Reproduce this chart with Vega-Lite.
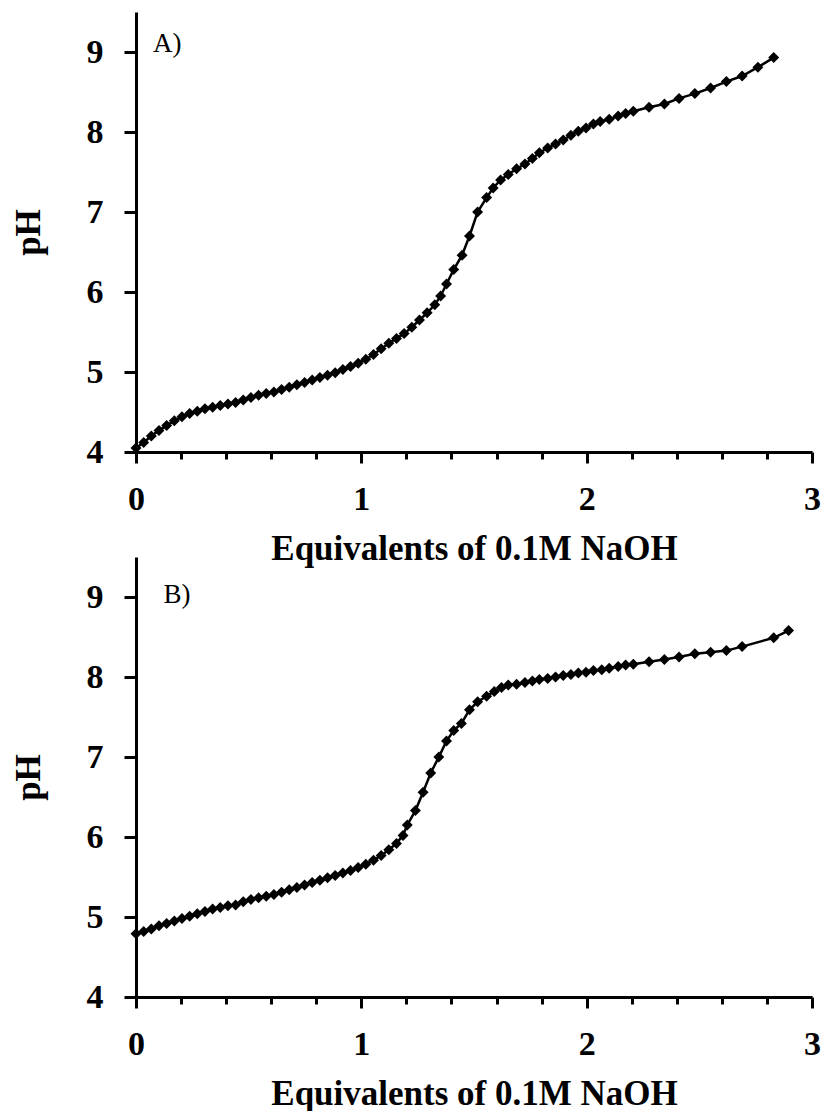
{
  "$schema": "https://vega.github.io/schema/vega-lite/v6.json",
  "background": "white",
  "padding": {"left": 11, "top": 12, "right": 0, "bottom": 0},
  "bounds": "flush",
  "spacing": 105,
  "config": {
    "view": {"stroke": null},
    "font": "Liberation Serif",
    "axis": {
      "grid": false,
      "domainColor": "black",
      "domainWidth": 3,
      "tickColor": "black",
      "tickWidth": 3,
      "labelFont": "Liberation Serif",
      "labelFontWeight": "bold",
      "labelFontSize": 34,
      "labelColor": "black",
      "titleFont": "Liberation Serif",
      "titleFontWeight": "bold",
      "titleFontSize": 35,
      "titleColor": "black",
      "labelOverlap": false,
      "labelFlush": false
    }
  },
  "datasets": {
    "a": [
      {"eq": 0.000, "pH": 4.05}, {"eq": 0.034, "pH": 4.12}, {"eq": 0.068, "pH": 4.20}, {"eq": 0.102, "pH": 4.27},
      {"eq": 0.136, "pH": 4.33}, {"eq": 0.170, "pH": 4.39}, {"eq": 0.204, "pH": 4.44}, {"eq": 0.238, "pH": 4.48},
      {"eq": 0.272, "pH": 4.51}, {"eq": 0.306, "pH": 4.54}, {"eq": 0.340, "pH": 4.56}, {"eq": 0.374, "pH": 4.58},
      {"eq": 0.408, "pH": 4.60}, {"eq": 0.442, "pH": 4.62}, {"eq": 0.476, "pH": 4.65}, {"eq": 0.510, "pH": 4.68},
      {"eq": 0.544, "pH": 4.71}, {"eq": 0.578, "pH": 4.73}, {"eq": 0.612, "pH": 4.75}, {"eq": 0.646, "pH": 4.78},
      {"eq": 0.680, "pH": 4.81}, {"eq": 0.714, "pH": 4.84}, {"eq": 0.748, "pH": 4.87}, {"eq": 0.782, "pH": 4.90},
      {"eq": 0.816, "pH": 4.93}, {"eq": 0.850, "pH": 4.96}, {"eq": 0.884, "pH": 4.99}, {"eq": 0.918, "pH": 5.03},
      {"eq": 0.952, "pH": 5.07}, {"eq": 0.986, "pH": 5.11}, {"eq": 1.020, "pH": 5.16}, {"eq": 1.054, "pH": 5.22},
      {"eq": 1.088, "pH": 5.29}, {"eq": 1.122, "pH": 5.36}, {"eq": 1.156, "pH": 5.42}, {"eq": 1.190, "pH": 5.48},
      {"eq": 1.224, "pH": 5.56}, {"eq": 1.258, "pH": 5.65}, {"eq": 1.292, "pH": 5.74}, {"eq": 1.326, "pH": 5.84},
      {"eq": 1.352, "pH": 5.95}, {"eq": 1.378, "pH": 6.10}, {"eq": 1.410, "pH": 6.28}, {"eq": 1.447, "pH": 6.46},
      {"eq": 1.480, "pH": 6.70}, {"eq": 1.516, "pH": 7.00}, {"eq": 1.556, "pH": 7.18}, {"eq": 1.585, "pH": 7.30},
      {"eq": 1.618, "pH": 7.40}, {"eq": 1.652, "pH": 7.47}, {"eq": 1.689, "pH": 7.54}, {"eq": 1.726, "pH": 7.60},
      {"eq": 1.759, "pH": 7.67}, {"eq": 1.790, "pH": 7.74}, {"eq": 1.827, "pH": 7.80}, {"eq": 1.862, "pH": 7.85},
      {"eq": 1.896, "pH": 7.90}, {"eq": 1.930, "pH": 7.96}, {"eq": 1.963, "pH": 8.01}, {"eq": 1.997, "pH": 8.05},
      {"eq": 2.030, "pH": 8.10}, {"eq": 2.060, "pH": 8.13}, {"eq": 2.100, "pH": 8.16}, {"eq": 2.140, "pH": 8.20},
      {"eq": 2.173, "pH": 8.23}, {"eq": 2.207, "pH": 8.26}, {"eq": 2.277, "pH": 8.31}, {"eq": 2.345, "pH": 8.35},
      {"eq": 2.410, "pH": 8.42}, {"eq": 2.480, "pH": 8.48}, {"eq": 2.550, "pH": 8.55}, {"eq": 2.620, "pH": 8.63},
      {"eq": 2.690, "pH": 8.70}, {"eq": 2.760, "pH": 8.81}, {"eq": 2.830, "pH": 8.93}
    ],
    "b": [
      {"eq": 0.000, "pH": 4.79}, {"eq": 0.034, "pH": 4.82}, {"eq": 0.068, "pH": 4.85}, {"eq": 0.102, "pH": 4.89},
      {"eq": 0.136, "pH": 4.92}, {"eq": 0.170, "pH": 4.95}, {"eq": 0.204, "pH": 4.98}, {"eq": 0.238, "pH": 5.01},
      {"eq": 0.272, "pH": 5.04}, {"eq": 0.306, "pH": 5.07}, {"eq": 0.340, "pH": 5.10}, {"eq": 0.374, "pH": 5.12},
      {"eq": 0.408, "pH": 5.14}, {"eq": 0.442, "pH": 5.15}, {"eq": 0.476, "pH": 5.19}, {"eq": 0.510, "pH": 5.22},
      {"eq": 0.544, "pH": 5.24}, {"eq": 0.578, "pH": 5.26}, {"eq": 0.612, "pH": 5.28}, {"eq": 0.646, "pH": 5.31},
      {"eq": 0.680, "pH": 5.34}, {"eq": 0.714, "pH": 5.37}, {"eq": 0.748, "pH": 5.40}, {"eq": 0.782, "pH": 5.43},
      {"eq": 0.816, "pH": 5.46}, {"eq": 0.850, "pH": 5.49}, {"eq": 0.884, "pH": 5.52}, {"eq": 0.918, "pH": 5.55},
      {"eq": 0.952, "pH": 5.58}, {"eq": 0.986, "pH": 5.62}, {"eq": 1.020, "pH": 5.66}, {"eq": 1.054, "pH": 5.71},
      {"eq": 1.088, "pH": 5.77}, {"eq": 1.122, "pH": 5.84}, {"eq": 1.156, "pH": 5.92}, {"eq": 1.185, "pH": 6.02},
      {"eq": 1.204, "pH": 6.15}, {"eq": 1.240, "pH": 6.33}, {"eq": 1.274, "pH": 6.56}, {"eq": 1.308, "pH": 6.80},
      {"eq": 1.344, "pH": 7.00}, {"eq": 1.378, "pH": 7.20}, {"eq": 1.410, "pH": 7.33}, {"eq": 1.444, "pH": 7.42},
      {"eq": 1.480, "pH": 7.59}, {"eq": 1.516, "pH": 7.69}, {"eq": 1.556, "pH": 7.76}, {"eq": 1.590, "pH": 7.82},
      {"eq": 1.622, "pH": 7.87}, {"eq": 1.652, "pH": 7.90}, {"eq": 1.689, "pH": 7.91}, {"eq": 1.726, "pH": 7.93},
      {"eq": 1.759, "pH": 7.95}, {"eq": 1.790, "pH": 7.97}, {"eq": 1.827, "pH": 7.98}, {"eq": 1.862, "pH": 8.00},
      {"eq": 1.896, "pH": 8.02}, {"eq": 1.930, "pH": 8.03}, {"eq": 1.963, "pH": 8.05}, {"eq": 1.997, "pH": 8.06},
      {"eq": 2.030, "pH": 8.08}, {"eq": 2.067, "pH": 8.09}, {"eq": 2.100, "pH": 8.11}, {"eq": 2.140, "pH": 8.13},
      {"eq": 2.173, "pH": 8.15}, {"eq": 2.207, "pH": 8.16}, {"eq": 2.277, "pH": 8.19}, {"eq": 2.345, "pH": 8.22},
      {"eq": 2.410, "pH": 8.25}, {"eq": 2.480, "pH": 8.29}, {"eq": 2.550, "pH": 8.31}, {"eq": 2.620, "pH": 8.33},
      {"eq": 2.690, "pH": 8.38}, {"eq": 2.830, "pH": 8.49}, {"eq": 2.896, "pH": 8.58}
    ],
    "labels": [
      {"panel": "A", "label": "A)", "x": 0.075, "y": 9.1},
      {"panel": "B", "label": "B)", "x": 0.122, "y": 9.02}
    ]
  },
  "vconcat": [
    {
      "width": 676,
      "height": 440,
      "layer": [
        {
          "data": {"name": "a"},
          "mark": {"type": "line", "color": "black", "strokeWidth": 2.5, "point": {"shape": "diamond", "size": 120, "filled": true, "color": "black", "opacity": 1}},
          "encoding": {
            "x": {"field": "eq", "type": "quantitative", "scale": {"domain": [0, 3], "nice": false, "zero": false},
              "axis": {"title": "Equivalents of 0.1M NaOH", "values": [0, 0.2, 0.4, 0.6, 0.8, 1, 1.2, 1.4, 1.6, 1.8, 2, 2.2, 2.4, 2.6, 2.8, 3],
                "labelExpr": "datum.value % 1 === 0 ? format(datum.value, 'd') : ''",
                "tickSize": {"condition": {"test": "datum.value % 1 === 0", "value": 11}, "value": 7},
                "labelPadding": 19, "titlePadding": 15}},
            "y": {"field": "pH", "type": "quantitative", "scale": {"domain": [4, 9.5], "nice": false, "zero": false},
              "axis": {"title": "pH", "values": [4, 4.5, 5, 5.5, 6, 6.5, 7, 7.5, 8, 8.5, 9, 9.5],
                "labelExpr": "datum.value % 1 === 0 ? format(datum.value, 'd') : ''",
                "tickSize": {"condition": {"test": "datum.value % 1 === 0", "value": 12}, "value": 9},
                "labelPadding": 21, "titlePadding": 40}}
          }
        },
        {
          "data": {"name": "labels"},
          "transform": [{"filter": "datum.panel === 'A'"}],
          "mark": {"type": "text", "align": "left", "baseline": "middle", "fontSize": 27, "font": "Liberation Serif", "color": "black"},
          "encoding": {
            "x": {"field": "x", "type": "quantitative"},
            "y": {"field": "y", "type": "quantitative"},
            "text": {"field": "label"}
          }
        }
      ]
    },
    {
      "width": 676,
      "height": 440,
      "layer": [
        {
          "data": {"name": "b"},
          "mark": {"type": "line", "color": "black", "strokeWidth": 2.5, "point": {"shape": "diamond", "size": 120, "filled": true, "color": "black", "opacity": 1}},
          "encoding": {
            "x": {"field": "eq", "type": "quantitative", "scale": {"domain": [0, 3], "nice": false, "zero": false},
              "axis": {"title": "Equivalents of 0.1M NaOH", "values": [0, 0.2, 0.4, 0.6, 0.8, 1, 1.2, 1.4, 1.6, 1.8, 2, 2.2, 2.4, 2.6, 2.8, 3],
                "labelExpr": "datum.value % 1 === 0 ? format(datum.value, 'd') : ''",
                "tickSize": {"condition": {"test": "datum.value % 1 === 0", "value": 11}, "value": 7},
                "labelPadding": 19, "titlePadding": 15}},
            "y": {"field": "pH", "type": "quantitative", "scale": {"domain": [4, 9.5], "nice": false, "zero": false},
              "axis": {"title": "pH", "values": [4, 4.5, 5, 5.5, 6, 6.5, 7, 7.5, 8, 8.5, 9, 9.5],
                "labelExpr": "datum.value % 1 === 0 ? format(datum.value, 'd') : ''",
                "tickSize": {"condition": {"test": "datum.value % 1 === 0", "value": 12}, "value": 9},
                "labelPadding": 21, "titlePadding": 40}}
          }
        },
        {
          "data": {"name": "labels"},
          "transform": [{"filter": "datum.panel === 'B'"}],
          "mark": {"type": "text", "align": "left", "baseline": "middle", "fontSize": 27, "font": "Liberation Serif", "color": "black"},
          "encoding": {
            "x": {"field": "x", "type": "quantitative"},
            "y": {"field": "y", "type": "quantitative"},
            "text": {"field": "label"}
          }
        }
      ]
    }
  ]
}
